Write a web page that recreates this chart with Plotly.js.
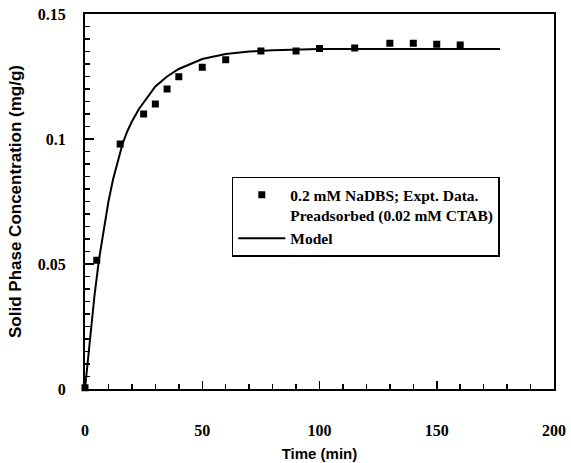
<!DOCTYPE html>
<html>
<head>
<meta charset="utf-8">
<script src="https://cdn.plot.ly/plotly-3.0.1.min.js"></script>
<style>html,body{margin:0;padding:0;background:#fff;}#chart{width:571px;height:463px;}</style>
</head>
<body>
<div id="chart"></div>
<script>
const exptTime = [0, 5, 15, 25, 30, 35, 40, 50, 60, 75, 90, 100, 115, 130, 140, 150, 160];
const exptConc = [0.0005, 0.0515, 0.098, 0.110, 0.114, 0.120, 0.1249, 0.1287, 0.1317, 0.1352, 0.1352, 0.1362, 0.1364, 0.1383, 0.1383, 0.1379, 0.1376];

// Model curve
const modelTime = [0, 2, 4, 6, 8, 10, 12, 14, 16, 18, 20, 23, 26, 30, 35, 40, 45, 50, 60, 70, 80, 90, 100, 120, 140, 160, 177];
const modelConc = [0, 0.019, 0.037, 0.052, 0.064, 0.075, 0.084, 0.091, 0.098, 0.103, 0.107, 0.112, 0.116, 0.121, 0.125, 0.128, 0.130, 0.132, 0.134, 0.135, 0.1355, 0.1358, 0.136, 0.136, 0.136, 0.136, 0.136];

const xTickVals = [0, 50, 100, 150, 200];
const yTickVals = [0, 0.05, 0.1, 0.15];
const yTickText = ['0', '0.05', '0.1', '0.15'];

const seriesNames = ['0.2 mM NaDBS; Expt. Data.<br>Preadsorbed (0.02 mM CTAB)', 'Model'];

const serif = {family: 'Liberation Serif, Times New Roman, serif', size: 16, color: '#000', weight: 'bold'};
const sans = {family: 'Liberation Sans, Arial, sans-serif', size: 16, color: '#000', weight: 'bold'};

const traces = [
  {
    x: exptTime, y: exptConc, type: 'scatter', mode: 'markers', name: seriesNames[0],
    marker: {symbol: 'square', size: 7, color: '#000'}, cliponaxis: false
  },
  {
    x: modelTime, y: modelConc, type: 'scatter', mode: 'lines', name: seriesNames[1],
    line: {color: '#000', width: 2}
  }
];

const layout = {
  width: 571, height: 463,
  margin: {l: 85, r: 17, t: 14, b: 74},
  paper_bgcolor: '#fff', plot_bgcolor: '#fff',
  showlegend: true,
  legend: {
    x: 0.313, y: 0.566, xanchor: 'left', yanchor: 'top',
    bgcolor: '#fff', bordercolor: '#000', borderwidth: 1.5,
    font: {family: serif.family, size: 15.5, color: '#000', weight: 'bold'},
    valign: 'top', tracegroupgap: 0, itemwidth: 47
  },
  xaxis: {
    range: [0, 200], tickvals: xTickVals, ticks: 'inside', ticklen: 8, tickwidth: 1.5, tickcolor: '#000',
    minor: {dtick: 10, ticks: 'inside', ticklen: 5, tickwidth: 1.5, tickcolor: '#000', showgrid: false},
    showline: true, linecolor: '#000', linewidth: 2, mirror: true,
    showgrid: false, zeroline: false, tickfont: serif, ticklabelstandoff: 26,
    title: {text: 'Time (min)', font: {family: sans.family, size: 15, color: '#000', weight: 'bold'}, standoff: 10},
    automargin: false
  },
  yaxis: {
    range: [0, 0.15], tickvals: yTickVals, ticktext: yTickText, ticks: 'inside', ticklen: 9, tickwidth: 1.5, tickcolor: '#000',
    minor: {dtick: 0.005, ticks: 'inside', ticklen: 5, tickwidth: 1.5, tickcolor: '#000', showgrid: false},
    showline: true, linecolor: '#000', linewidth: 2, mirror: true,
    showgrid: false, zeroline: false, tickfont: serif, ticklabelstandoff: 14,
    title: {text: 'Solid Phase Concentration (mg/g)', font: {family: sans.family, size: 17, color: '#000', weight: 'bold'}, standoff: 12},
    automargin: false
  }
};

Plotly.newPlot('chart', traces, layout, {displayModeBar: false, staticPlot: true});
</script>
</body>
</html>
